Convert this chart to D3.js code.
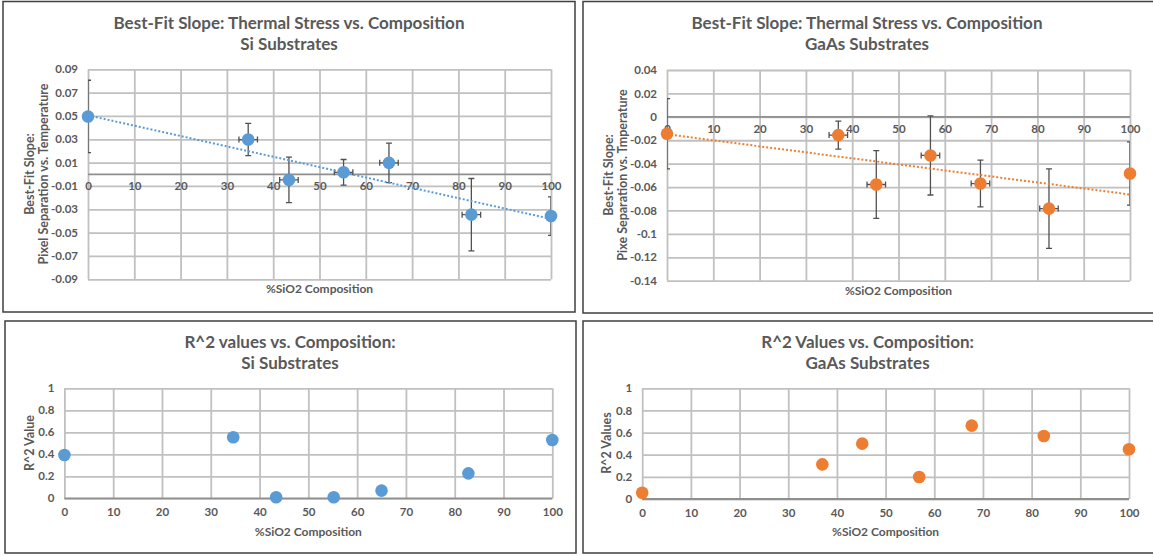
<!DOCTYPE html>
<html>
<head>
<title>Thermal Stress vs. Composition</title>
<script src="https://cdn.jsdelivr.net/npm/d3@7"></script>
<style>
    body { margin: 0; background: #fff; }
    text { font-family: Lato, "Open Sans", sans-serif; font-weight: bold; fill: #595959; }
    .grid line { stroke: #c0c0c0; stroke-width: 1.8; }
    .grid path { display: none; }
    .labels path, .labels line { display: none; }
    .zero { stroke: #8f8f8f; stroke-width: 1.8; }
    .frame { fill: none; stroke: #3f3f3f; stroke-width: 1.5; }
    .err { stroke: #505050; stroke-width: 1.3; fill: none; }
</style>
</head>
<body>
<svg id="chart" width="1153" height="556"></svg>
<script>
// composition (%SiO2) of each sample
var siComp   = [0, 34.6, 43.4, 55.2, 65.0, 82.8, 100];
var gaasComp = [0, 37.0, 45.2, 56.9, 67.7, 82.5, 100];

// best-fit slope (pixel separation vs temperature) and its error
var siSlope      = [0.0496, 0.0298, -0.0048, 0.0017, 0.0098, -0.0346, -0.0358];
var siSlopeErr   = [0.031, 0.0138, 0.0195, 0.011, 0.017, 0.031, 0.0165];
var gaasSlope    = [-0.0145, -0.0156, -0.0578, -0.033, -0.057, -0.0784, -0.0484];
var gaasSlopeErr = [0.03, 0.012, 0.029, 0.0338, 0.020, 0.034, 0.027];

// composition uncertainty (none on the end members)
var compErr = [0, 2, 2, 2, 2, 2, 0];

// R^2 of each fit
var siR2   = [0.394, 0.555, 0.009, 0.009, 0.07, 0.227, 0.53];
var gaasR2 = [0.057, 0.313, 0.5, 0.199, 0.663, 0.569, 0.449];

// axis ticks
var xTicks         = [0, 10, 20, 30, 40, 50, 60, 70, 80, 90, 100];
var siSlopeTicks   = [0.09, 0.07, 0.05, 0.03, 0.01, -0.01, -0.03, -0.05, -0.07, -0.09];
var gaasSlopeTicks = [0.04, 0.02, 0, -0.02, -0.04, -0.06, -0.08, -0.1, -0.12, -0.14];
var r2Ticks        = [0, 0.2, 0.4, 0.6, 0.8, 1];

var blue = "#5b9bd5", orange = "#ed7d31";
var svg = d3.select("#chart");

// least squares line, like the excel trendline
function fit(xs, ys) {
    var mx = d3.mean(xs), my = d3.mean(ys);
    var sxy = d3.sum(xs, function(x, i) { return (x - mx) * (ys[i] - my); });
    var sxx = d3.sum(xs, function(x) { return (x - mx) * (x - mx); });
    var m = sxy / sxx;
    return function(x) { return my + m * (x - mx); };
}

function fmt(d) { return String(+d.toFixed(2)); }

function drawPanel(o, id) {
    svg.append("rect").attr("class", "frame")
        .attr("x", o.box[0]).attr("y", o.box[1])
        .attr("width", o.box[2] - o.box[0]).attr("height", o.box[3] - o.box[1]);

    var x = d3.scaleLinear().domain([0, 100]).range([o.left, o.right]);
    var y = d3.scaleLinear().domain(o.yDomain).range([o.bottom, o.top]);
    var w = o.right - o.left, h = o.bottom - o.top;

    // gridlines
    svg.append("g").attr("class", "grid")
        .attr("transform", "translate(" + o.left + ",0)")
        .call(d3.axisLeft(y).tickValues(o.yTicks).tickSize(-w).tickFormat(""));
    svg.append("g").attr("class", "grid")
        .attr("transform", "translate(0," + o.bottom + ")")
        .call(d3.axisBottom(x).tickValues(xTicks).tickSize(-h).tickFormat(""));

    // horizontal axis sits at y = 0
    var y0 = y(0);
    svg.append("line").attr("class", "zero")
        .attr("x1", o.left).attr("x2", o.right).attr("y1", y0).attr("y2", y0);

    svg.append("g").attr("class", "labels")
        .attr("transform", "translate(" + o.left + ",0)")
        .call(d3.axisLeft(y).tickValues(o.yTicks).tickSize(0).tickPadding(10).tickFormat(fmt));
    svg.append("g").attr("class", "labels")
        .attr("transform", "translate(0," + y0 + ")")
        .call(d3.axisBottom(x).tickValues(xTicks).tickSize(0).tickPadding(o.xPad));
    svg.selectAll(".labels").attr("font-family", null).attr("font-size", null)
        .style("font-size", "11.5px");

    // titles
    var t = svg.append("text").attr("text-anchor", "middle").style("font-size", "17px");
    t.append("tspan").attr("x", o.titleX).attr("y", o.titleY[0]).attr("dy", "0.35em").text(o.title[0]);
    t.append("tspan").attr("x", o.titleX).attr("y", o.titleY[1]).attr("dy", "0.35em").text(o.title[1]);

    svg.append("text").attr("text-anchor", "middle").style("font-size", "12px")
        .attr("x", (o.left + o.right) / 2).attr("y", o.xTitleY).attr("dy", "0.35em")
        .text("%SiO2 Composition");

    o.yTitle.forEach(function(s, i) {
        svg.append("text").attr("text-anchor", "middle").style("font-size", "12.5px")
            .attr("transform", "translate(" + o.yTitleX[i] + "," + o.yTitleY + ") rotate(-90)")
            .attr("dy", "0.35em").text(s);
    });

    var pts = o.xs.map(function(v, i) { return { x: v, y: o.ys[i], e: o.err ? o.err[i] : 0, ex: o.err ? compErr[i] : 0 }; });

    // error bars, clipped to plot area
    svg.append("clipPath").attr("id", "clip" + id).append("rect")
        .attr("x", o.left).attr("y", o.top).attr("width", w).attr("height", h);
    var eb = svg.append("g").attr("clip-path", "url(#clip" + id + ")");

    if (o.err) {
        var cap = 3;
        pts.forEach(function(d) {
            var cx = x(d.x), cy = y(d.y);
            var p = "M" + cx + "," + y(d.y + d.e) + "V" + y(d.y - d.e) +
                "M" + (cx - cap) + "," + y(d.y + d.e) + "H" + (cx + cap) +
                "M" + (cx - cap) + "," + y(d.y - d.e) + "H" + (cx + cap);
            if (d.ex) {
                p += "M" + x(d.x - d.ex) + "," + cy + "H" + x(d.x + d.ex) +
                    "M" + x(d.x - d.ex) + "," + (cy - cap) + "V" + (cy + cap) +
                    "M" + x(d.x + d.ex) + "," + (cy - cap) + "V" + (cy + cap);
            }
            eb.append("path").attr("class", "err").attr("d", p);
        });

        var f = fit(o.xs, o.ys);
        svg.append("path")
            .datum([0, 100])
            .attr("d", d3.line().x(function(v) { return x(v); }).y(function(v) { return y(f(v)); }))
            .attr("fill", "none").attr("stroke", o.color).attr("stroke-width", 2)
            .attr("stroke-dasharray", "2,2");
    }

    svg.append("g").selectAll("circle")
        .data(pts)
        .enter().append("circle")
        .attr("cx", function(d) { return x(d.x); })
        .attr("cy", function(d) { return y(d.y); })
        .attr("r", 6.3)
        .attr("fill", o.color);
}

drawPanel({
    box: [3, 1.5, 575, 312], left: 88, right: 551, top: 69.3, bottom: 279.3,
    yDomain: [-0.09, 0.09], yTicks: siSlopeTicks, xPad: 8,
    title: ["Best-Fit Slope: Thermal Stress vs. Composition", "Si Substrates"],
    titleX: 289, titleY: [22.7, 43.7], xTitleY: 289,
    yTitle: ["Best-Fit Slope:", "Pixel Separation vs. Temperature"], yTitleX: [29.3, 43.3], yTitleY: 174,
    xs: siComp, ys: siSlope, err: siSlopeErr, color: blue
}, 1);

drawPanel({
    box: [583, 1.5, 1160, 313], left: 667, right: 1130, top: 70, bottom: 280.7,
    yDomain: [-0.14, 0.04], yTicks: gaasSlopeTicks, xPad: 8,
    title: ["Best-Fit Slope: Thermal Stress vs. Composition", "GaAs Substrates"],
    titleX: 867, titleY: [22.7, 43.7], xTitleY: 291,
    yTitle: ["Best-Fit Slope:", "Pixe Separation vs. Tmperature"], yTitleX: [609, 623], yTitleY: 175,
    xs: gaasComp, ys: gaasSlope, err: gaasSlopeErr, color: orange
}, 2);

drawPanel({
    box: [5, 321, 576, 553], left: 64.4, right: 552.3, top: 388.3, bottom: 498.3,
    yDomain: [0, 1], yTicks: r2Ticks, xPad: 10,
    title: ["R^2 values vs. Composition:", "Si Substrates"],
    titleX: 290, titleY: [341.7, 362.7], xTitleY: 531.7,
    yTitle: ["R^2 Value"], yTitleX: [29.5], yTitleY: 443,
    xs: siComp, ys: siR2, err: null, color: blue
}, 3);

drawPanel({
    box: [583, 321, 1160, 553], left: 642.2, right: 1129, top: 388.3, bottom: 499,
    yDomain: [0, 1], yTicks: r2Ticks, xPad: 10,
    title: ["R^2 Values vs. Composition:", "GaAs Substrates"],
    titleX: 867.6, titleY: [341.7, 362.7], xTitleY: 531.7,
    yTitle: ["R^2 Values"], yTitleX: [607], yTitleY: 443,
    xs: gaasComp, ys: gaasR2, err: null, color: orange
}, 4);
</script>
</body>
</html>
